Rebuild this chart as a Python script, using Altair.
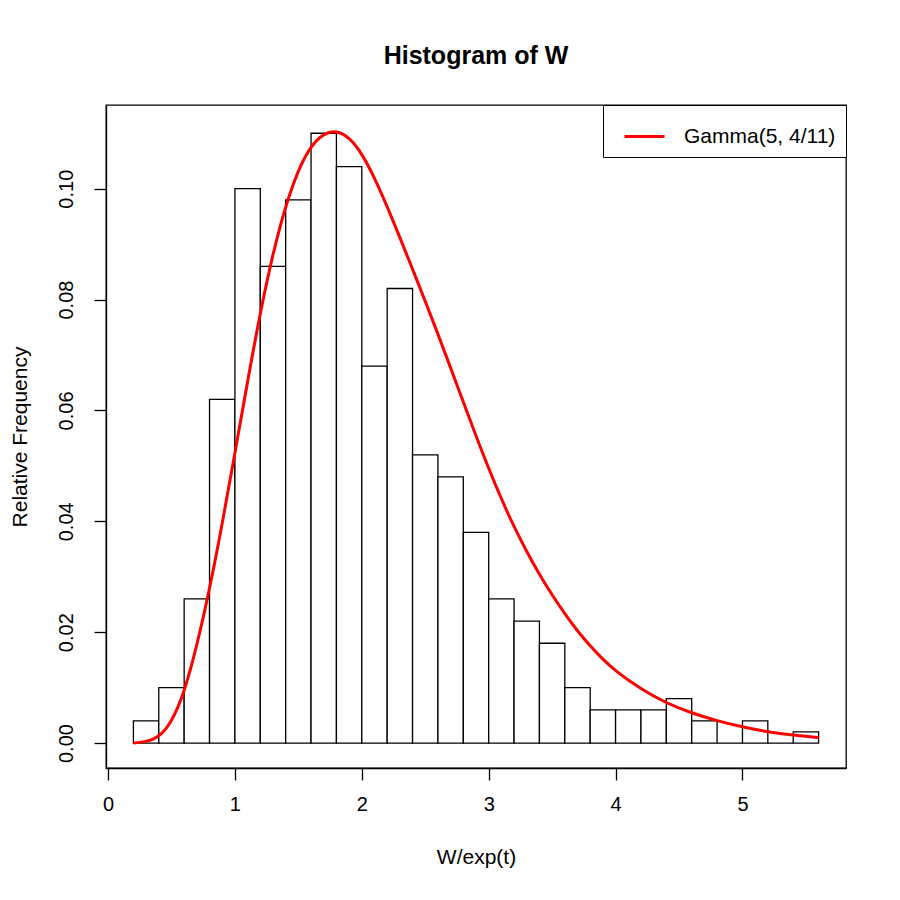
import altair as alt
import pandas as pd

# Histogram bins (relative frequency), bin width 0.2
bin_start = [0.2, 0.4, 0.6, 0.8, 1.0, 1.2, 1.4, 1.6, 1.8, 2.0, 2.2, 2.4, 2.6, 2.8,
             3.0, 3.2, 3.4, 3.6, 3.8, 4.0, 4.2, 4.4, 4.6, 4.8, 5.0, 5.2, 5.4]
bin_end = [0.4, 0.6, 0.8, 1.0, 1.2, 1.4, 1.6, 1.8, 2.0, 2.2, 2.4, 2.6, 2.8, 3.0,
           3.2, 3.4, 3.6, 3.8, 4.0, 4.2, 4.4, 4.6, 4.8, 5.0, 5.2, 5.4, 5.6]
rel_freq = [0.004, 0.010, 0.026, 0.062, 0.100, 0.086, 0.098, 0.110, 0.104, 0.068,
            0.082, 0.052, 0.048, 0.038, 0.026, 0.022, 0.018, 0.010, 0.006, 0.006,
            0.006, 0.008, 0.004, 0.000, 0.004, 0.000, 0.002]

# Fitted curve
curve_x = [0.2, 0.3, 0.4, 0.5, 0.6, 0.7, 0.8, 0.9, 1.0, 1.1, 1.2, 1.3, 1.4, 1.5,
           1.6, 1.7, 1.8, 1.9, 2.0, 2.1, 2.2, 2.3, 2.4, 2.5, 2.6, 2.7, 2.8, 2.9,
           3.0, 3.1, 3.2, 3.3, 3.4, 3.5, 3.6, 3.7, 3.8, 3.9, 4.0, 4.2, 4.4, 4.6,
           4.8, 5.0, 5.2, 5.4, 5.6]
curve_y = [0.0000, 0.0002, 0.0010, 0.0037, 0.0090, 0.0175, 0.0277, 0.0395, 0.0523,
           0.0653, 0.0777, 0.0884, 0.0970, 0.1035, 0.1078, 0.1100, 0.1105, 0.1093,
           0.1064, 0.1020, 0.0968, 0.0912, 0.0855, 0.0797, 0.0738, 0.0677, 0.0615,
           0.0554, 0.0495, 0.0440, 0.0390, 0.0345, 0.0304, 0.0267, 0.0233, 0.0202,
           0.0175, 0.0151, 0.0130, 0.0097, 0.0072, 0.0054, 0.0040, 0.0029, 0.0020,
           0.0014, 0.0010]

series_name = "Gamma(5, 4/11)"
x_ticks = [0, 1, 2, 3, 4, 5]
y_ticks = [0.00, 0.02, 0.04, 0.06, 0.08, 0.10]

hist_df = pd.DataFrame({"start": bin_start, "end": bin_end, "freq": rel_freq})
curve_df = pd.DataFrame({"x": curve_x, "y": curve_y, "series": series_name})

FONT = "Liberation Sans"

x_scale = alt.Scale(domain=[-0.016, 5.816], nice=False, zero=False)
y_scale = alt.Scale(domain=[-0.0045, 0.1151], nice=False, zero=False)

bars = alt.Chart(hist_df).mark_rect(
    fill="white", stroke="black", strokeWidth=1.3
).encode(
    x=alt.X("start:Q", scale=x_scale,
            axis=alt.Axis(values=x_ticks, format="d", title="W/exp(t)", grid=False,
                          tickSize=12, labelPadding=14, titlePadding=32,
                          domain=True)),
    x2="end:Q",
    y=alt.Y("freq:Q", scale=y_scale,
            axis=alt.Axis(values=y_ticks, format=".2f", title="Relative Frequency",
                          grid=False, tickSize=12, labelAngle=270, labelAlign="center",
                          labelBaseline="bottom", labelPadding=18, titlePadding=26)),
    y2=alt.datum(0),
)

line = alt.Chart(curve_df).mark_line(strokeWidth=3, interpolate="basis").encode(
    x=alt.X("x:Q", scale=x_scale),
    y=alt.Y("y:Q", scale=y_scale),
    color=alt.Color("series:N", scale=alt.Scale(range=["#ff0000"]),
                    legend=alt.Legend(title=None, orient="top-right", offset=0,
                                      symbolType="stroke", symbolSize=1600,
                                      symbolStrokeWidth=3, labelFontSize=21,
                                      labelFont=FONT, labelOffset=18, padding=10,
                                      symbolOffset=10,
                                      strokeColor="black", fillColor="white",
                                      cornerRadius=0, labelColor="black")),
)

chart = alt.layer(bars, line).properties(
    width=740,
    height=663,
    title=alt.Title("Histogram of W", fontSize=25, font=FONT, fontWeight="bold",
                    anchor="middle", baseline="alphabetic", offset=16, color="black"),
    autosize=alt.AutoSizeParams(type="none"),
    padding={"left": 98, "top": 97, "right": 30, "bottom": 120},
).configure_view(
    stroke="black", strokeWidth=1.3
).configure_axis(
    labelFont=FONT, titleFont=FONT, labelFontSize=20, titleFontSize=21,
    titleFontWeight="normal", labelColor="black", titleColor="black",
    domainColor="black", tickColor="black", domainWidth=1.3, tickWidth=1.3,
)

chart.save("out.html", embed_options={"renderer": "svg", "actions": False})
